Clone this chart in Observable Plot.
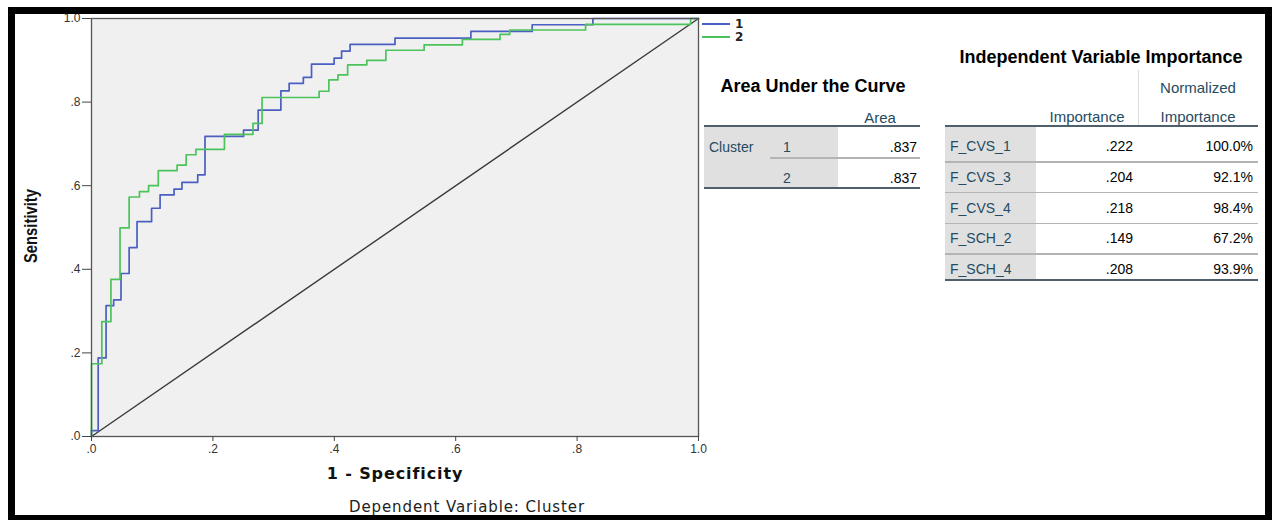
<!DOCTYPE html>
<html><head><meta charset="utf-8">
<script src="https://cdn.jsdelivr.net/npm/d3@7"></script>
<script src="https://cdn.jsdelivr.net/npm/@observablehq/plot@0.6"></script>
<style>
html,body{margin:0;padding:0;background:#fff;width:1279px;height:520px;overflow:hidden;}
#wrap{position:relative;width:1279px;height:520px;overflow:hidden;}
.abs{position:absolute;white-space:nowrap;}
#wrap svg{position:absolute;left:0;top:0;}
</style></head><body><div id="wrap"></div>
<script>
// ---- data ----
const tickValues = [0, 0.2, 0.4, 0.6, 0.8, 1];
const tickLabels = [".0", ".2", ".4", ".6", ".8", "1.0"];
const seriesNames = ["1", "2"];
const seriesColors = ["#4a5fc1", "#4cc35a"];
// Cluster 1 ROC corner points (1 - specificity, sensitivity)
const fpr1 = [0, 0, 0.011, 0.024, 0.0365, 0.0486, 0.062, 0.075, 0.099, 0.113, 0.136, 0.149, 0.175, 0.187, 0.2505, 0.2746, 0.312, 0.3256, 0.349, 0.3625, 0.3997, 0.412, 0.426, 0.500, 0.625, 0.726, 0.826, 1.0];
const tpr1 = [0, 0.014, 0.188, 0.313, 0.327, 0.390, 0.452, 0.514, 0.546, 0.578, 0.592, 0.608, 0.626, 0.718, 0.733, 0.781, 0.827, 0.845, 0.859, 0.891, 0.905, 0.922, 0.938, 0.953, 0.969, 0.985, 1.0, 1.0];
// Cluster 2 ROC corner points
const fpr2 = [0, 0, 0.017, 0.032, 0.047, 0.062, 0.079, 0.094, 0.110, 0.141, 0.156, 0.172, 0.219, 0.266, 0.281, 0.375, 0.391, 0.406, 0.422, 0.4535, 0.485, 0.548, 0.611, 0.673, 0.689, 0.814, 0.987, 1.0];
const tpr2 = [0, 0.174, 0.275, 0.376, 0.499, 0.573, 0.586, 0.600, 0.636, 0.649, 0.674, 0.687, 0.723, 0.749, 0.811, 0.826, 0.853, 0.865, 0.889, 0.900, 0.924, 0.937, 0.950, 0.962, 0.9725, 0.986, 1.0, 1.0];
const refX = [0, 1];
const refY = [0, 1];
// Area Under the Curve table
const aucClusters = ["1", "2"];
const aucAreas = [0.837, 0.837];
// Independent Variable Importance table
const varNames = ["F_CVS_1", "F_CVS_3", "F_CVS_4", "F_SCH_2", "F_SCH_4"];
const varImportance = [0.222, 0.204, 0.218, 0.149, 0.208];
const varNormalized = [100.0, 92.1, 98.4, 67.2, 93.9];

// ---- chart ----
const wrap = document.getElementById("wrap");
const toRows = (xs, ys, s) => xs.map((x, i) => ({x, y: ys[i], s}));
const rows1 = toRows(fpr1, tpr1, seriesNames[0]);
const rows2 = toRows(fpr2, tpr2, seriesNames[1]);
const refRows = toRows(refX, refY, "ref");
const fmtTick = d => tickLabels[tickValues.indexOf(d)];

const chart = Plot.plot({
  width: 720, height: 520,
  marginLeft: 91, marginRight: 22, marginTop: 18, marginBottom: 84,
  style: {background: "transparent", fontFamily: "'Liberation Sans', Arial, sans-serif", fontSize: "12px", color: "#222"},
  x: {domain: [0, 1]},
  y: {domain: [0, 1]},
  marks: [
    Plot.frame({fill: "#f0f0f0"}),
    Plot.line(refRows, {x: "x", y: "y", stroke: "#3a3a3a", strokeWidth: 1.4}),
    Plot.line(rows1, {x: "x", y: "y", curve: "step-after", stroke: seriesColors[0], strokeWidth: 1.7}),
    Plot.line(rows2, {x: "x", y: "y", curve: "step-after", stroke: seriesColors[1], strokeWidth: 1.7}),
    Plot.frame({stroke: "#555", strokeWidth: 1.3}),
    Plot.axisX({ticks: tickValues, tickFormat: fmtTick, tickSize: 5, tickPadding: 3, label: null, stroke: "#444", fill: "#333", fontSize: 12}),
    Plot.axisY({ticks: tickValues, tickFormat: fmtTick, tickSize: 9, tickPadding: 2, label: null, stroke: "#444", fill: "#333", fontSize: 12})
  ]
});
wrap.appendChild(chart);

// ---- html helpers ----
function txt(s, x, y, o = {}) {
  const size = o.size || 14;
  const d = document.createElement("div");
  d.className = "abs";
  d.textContent = s;
  d.style.font = `${o.weight || "normal"} ${size}px ${o.family || "'Liberation Sans', Arial, sans-serif"}`;
  d.style.color = o.color || "#010205";
  d.style.lineHeight = size + "px";
  if (o.spacing) d.style.letterSpacing = o.spacing + "px";
  d.style.left = x + "px";
  d.style.top = y + "px";
  const tx = o.anchor === "middle" ? "-50%" : o.anchor === "end" ? "-100%" : "0";
  d.style.transform = `translate(${tx},-50%)` + (o.rotate ? ` rotate(${o.rotate}deg)` : "") + (o.squeeze ? ` scale(${o.squeeze},1)` : "");
  d.style.transformOrigin = "50% 50%";
  wrap.appendChild(d);
  return d;
}
function box(x, y, w, h, color) {
  const d = document.createElement("div");
  d.className = "abs";
  Object.assign(d.style, {left: x + "px", top: y + "px", width: w + "px", height: h + "px", background: color});
  wrap.appendChild(d);
  return d;
}

// axis titles & caption
txt("Sensitivity", 31, 226, {size: 18.5, weight: "bold", family: "'Liberation Sans', Arial, sans-serif", anchor: "middle", rotate: -90, squeeze: 0.8, color: "#111"});
txt("1 - Specificity", 395, 474, {size: 16, weight: "bold", family: "'DejaVu Sans', Verdana, sans-serif", anchor: "middle", color: "#111", spacing: 0.9});
txt("Dependent Variable: Cluster", 467, 507, {size: 15, family: "'DejaVu Sans', Verdana, sans-serif", anchor: "middle", color: "#222", spacing: 0.9});

// legend
seriesNames.forEach((n, i) => {
  const y = 24 + i * 12.5;
  box(702, y - 1, 28, 2, seriesColors[i]);
  txt(n, 735, y, {size: 12, weight: "bold", color: "#222", family: "'DejaVu Sans', Verdana, sans-serif"});
});

const hdr = "#264a60", thick = "#4f5f6c", thin = "#b4b4b4", gray = "#e0e0e0";
const fmt3 = d => d3.format(".3f")(d).replace(/^0/, "");

// Area Under the Curve table
txt("Area Under the Curve", 813, 86, {size: 18, weight: "bold", anchor: "middle", color: "#000"});
txt("Area", 880, 117, {size: 15, anchor: "middle", color: hdr});
box(704, 125, 216, 2, thick);
box(704, 127, 134, 61, gray);
txt("Cluster", 709, 147, {size: 14, color: hdr});
aucClusters.forEach((c, i) => {
  const y = 147 + i * 31;
  txt(c, 783, y, {size: 14, color: hdr});
  txt(fmt3(aucAreas[i]), 917, y, {size: 14, anchor: "end"});
});
box(770, 157, 150, 1.5, thin);
box(704, 187, 216, 2, thick);

// Independent Variable Importance table
txt("Independent Variable Importance", 1101, 57, {size: 18, weight: "bold", anchor: "middle", color: "#000"});
box(1137.5, 70, 1, 55, "#dcdcdc");
txt("Normalized", 1198, 87, {size: 15, anchor: "middle", color: hdr});
txt("Importance", 1087, 116, {size: 15, anchor: "middle", color: hdr});
txt("Importance", 1198, 116, {size: 15, anchor: "middle", color: hdr});
box(945, 125, 313, 2, thick);
box(945, 127, 91, 152, gray);
varNames.forEach((v, i) => {
  const y = 146 + i * 30.8;
  txt(v, 950, y, {size: 14, color: hdr});
  txt(fmt3(varImportance[i]), 1133, y, {size: 14, anchor: "end"});
  txt(d3.format(".1f")(varNormalized[i]) + "%", 1253, y, {size: 14, anchor: "end"});
  if (i < varNames.length - 1) box(945, y + 15, 313, 1.5, thin);
});
box(945, 279, 313, 2, thick);

// outer black border
const border = document.createElement("div");
border.className = "abs";
Object.assign(border.style, {left: "8px", top: "7px", width: "1264px", height: "515px", border: "7px solid #000", boxSizing: "border-box", pointerEvents: "none"});
wrap.appendChild(border);
</script></body></html>
